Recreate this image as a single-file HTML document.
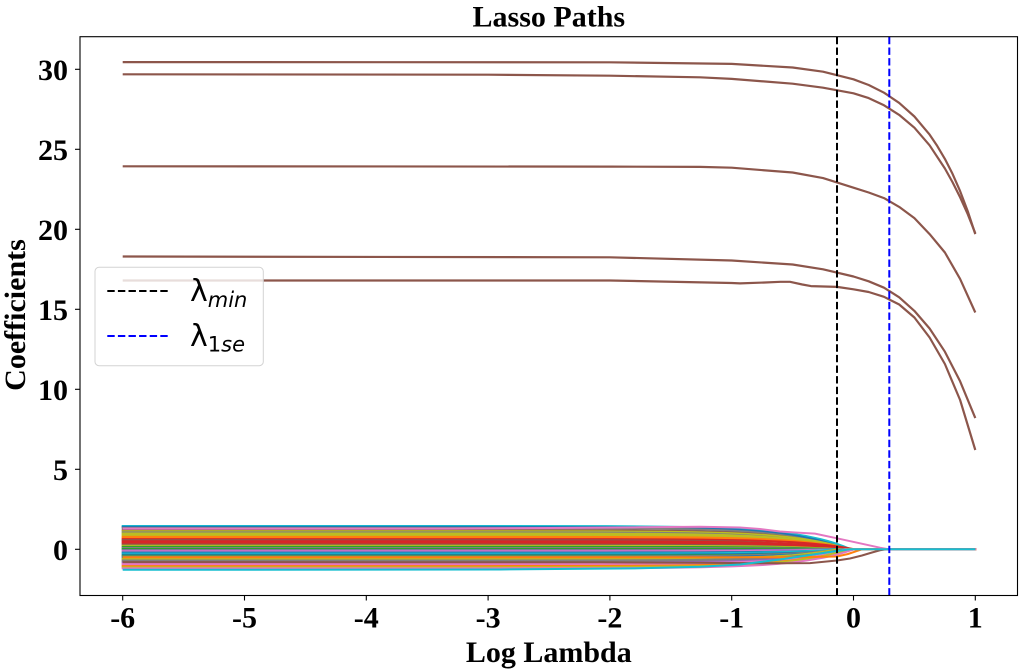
<!DOCTYPE html>
<html><head><meta charset="utf-8"><style>
html,body{margin:0;padding:0;background:#fff;}
svg{display:block;}
.t{font-family:"Liberation Serif","Times New Roman",serif;font-weight:bold;font-size:30px;fill:#000;}
.lg{font-family:"DejaVu Sans",sans-serif;fill:#000;}
</style></head><body>
<svg width="1023" height="670" viewBox="0 0 1023 670" xmlns="http://www.w3.org/2000/svg">
<defs>
<clipPath id="cp"><rect x="121.7" y="30" width="854.6" height="570"/></clipPath>
<path id="u" fill="none" vector-effect="non-scaling-stroke" d="M-900,1 L-365.4,0.999 L-243.6,0.99 L-182.7,0.968 L-152.25,0.944 L-121.8,0.9 L-106.6,0.867 L-91.35,0.822 L-76.1,0.763 L-60.9,0.684 L-45.7,0.578 L-30.45,0.438 L-22.8,0.351 L-15.2,0.25 L-7.6,0.134 L0,0 L200,0"/>
</defs>
<rect width="1023" height="670" fill="#fff"/>

<!-- small coefficient bundle -->
<g clip-path="url(#cp)" stroke-width="2" fill="none">
<use href="#u" transform="translate(851 549.3) scale(1 -23.36)" stroke="#17becf"/>
<use href="#u" transform="translate(846 549.3) scale(1 -22.4)" stroke="#1f77b4"/>
<use href="#u" transform="translate(840 549.3) scale(1 -21.28)" stroke="#7f7f7f"/>
<use href="#u" transform="translate(842 549.3) scale(1 -19.2)" stroke="#8c564b"/>
<use href="#u" transform="translate(848 549.3) scale(1 -18.08)" stroke="#bcbd22"/>
<use href="#u" transform="translate(838 549.3) scale(1 -16.96)" stroke="#7f7f7f"/>
<use href="#u" transform="translate(845 549.3) scale(1 -15.84)" stroke="#bcbd22"/>
<use href="#u" transform="translate(850 549.3) scale(1 -14.72)" stroke="#bcbd22"/>
<use href="#u" transform="translate(836 549.3) scale(1 -13.6)" stroke="#bcbd22"/>
<use href="#u" transform="translate(852 549.3) scale(1 -12.48)" stroke="#ff7f0e"/>
<use href="#u" transform="translate(844 549.3) scale(1 -11.36)" stroke="#ff7f0e"/>
<use href="#u" transform="translate(855 549.3) scale(1 -10.24)" stroke="#d62728"/>
<use href="#u" transform="translate(832 549.3) scale(1 -9.12)" stroke="#8c564b"/>
<use href="#u" transform="translate(850 549.3) scale(1 -8.0)" stroke="#d62728"/>
<use href="#u" transform="translate(853 549.3) scale(1 -6.88)" stroke="#d62728"/>
<use href="#u" transform="translate(846 549.3) scale(1 -5.76)" stroke="#d62728"/>
<use href="#u" transform="translate(828 549.3) scale(1 -4.64)" stroke="#8c564b"/>
<use href="#u" transform="translate(840 549.3) scale(1 -3.52)" stroke="#bcbd22"/>
<use href="#u" transform="translate(835 549.3) scale(1 -2.4)" stroke="#2ca02c"/>
<use href="#u" transform="translate(830 549.3) scale(1 -1.28)" stroke="#7f7f7f"/>
<use href="#u" transform="translate(826 549.3) scale(1 -0.32)" stroke="#2ca02c"/>
<use href="#u" transform="translate(834 549.3) scale(1 0.96)" stroke="#9467bd"/>
<use href="#u" transform="translate(842 549.3) scale(1 2.08)" stroke="#e377c2"/>
<use href="#u" transform="translate(848 549.3) scale(1 3.2)" stroke="#1f77b4"/>
<use href="#u" transform="translate(836 549.3) scale(1 4.32)" stroke="#17becf"/>
<use href="#u" transform="translate(850 549.3) scale(1 5.44)" stroke="#1f77b4"/>
<use href="#u" transform="translate(856 549.3) scale(1 6.4)" stroke="#2ca02c"/>
<use href="#u" transform="translate(840 549.3) scale(1 7.2)" stroke="#7f7f7f"/>
<use href="#u" transform="translate(846 549.3) scale(1 8.32)" stroke="#1f77b4"/>
<use href="#u" transform="translate(852 549.3) scale(1 9.28)" stroke="#bcbd22"/>
<use href="#u" transform="translate(838 549.3) scale(1 10.24)" stroke="#bcbd22"/>
<use href="#u" transform="translate(848 549.3) scale(1 11.2)" stroke="#7f7f7f"/>
<use href="#u" transform="translate(842 549.3) scale(1 12.32)" stroke="#7f7f7f"/>
<use href="#u" transform="translate(850 549.3) scale(1 13.44)" stroke="#9467bd"/>
<use href="#u" transform="translate(852 549.3) scale(1 14.56)" stroke="#e377c2"/>
<use href="#u" transform="translate(846 549.3) scale(1 15.68)" stroke="#e377c2"/>
<use href="#u" transform="translate(850 549.3) scale(1 16.8)" stroke="#ff7f0e"/>
<use href="#u" transform="translate(848 549.3) scale(1 17.92)" stroke="#bcbd22"/>
<use href="#u" transform="translate(854 549.3) scale(1 19.04)" stroke="#e377c2"/>
<!-- specials -->
<polyline stroke="#ff7f0e" points="122.7,557.3 790,557.3 837,556.5 848,554 856,551.3 862,549.3 975.3,549.3"/>
<polyline stroke="#8c564b" points="122.7,562.1 600,562.3 700,562.8 780,563.3 810,563.1 837,560.5 850,558.5 862,555.5 872,552.5 880,550.3 886,549.3 975.3,549.3"/>
<polyline stroke="#e377c2" points="122.7,528.6 450,528.6 550,528 640,527.3 700,526.7 740,527.5 760,529 780,531.5 795,532.5 815,533.6 837,538.3 860,543.3 880,547.7 889,549.3 975.3,549.3"/>
<polyline stroke="#17becf" points="122.7,569.8 500,569.5 640,568.3 700,566.7 740,564.5 760,562 780,559.5 800,556.5 820,553.5 835,551.3 850,549.3 975.3,549.3"/>
</g>

<!-- big brown paths -->
<g fill="none" stroke="#8c564b" stroke-width="2.2" stroke-linejoin="round">
<polyline points="122.7,62.1 609.9,62.3 731.7,63.9 792.6,67.5 823.05,71.7 853.5,79.3 868.7,85.0 884,92.7 899.2,102.9 914.4,116.5 929.6,134.6 937.2,145.9 944.9,158.9 952.5,173.8 960.1,191.1 967.7,211.1 975.3,234.1"/>
<polyline points="122.7,74.3 488.1,74.7 609.9,75.7 700,77.3 731.7,78.9 792.6,83.7 823.05,87.7 853.5,93.3 868.7,98.1 884,105.3 899.2,114.9 914.4,127.7 929.6,145.3 944.9,168.5 952.5,182.1 960.1,197.3 967.7,214.1 975.3,233.3"/>
<polyline points="122.7,166.3 609.9,166.6 700,166.9 731.7,167.7 792.6,172.5 823.05,178.1 853.5,187.7 868.7,192.5 884,198.1 899.2,206.9 914.4,218.1 929.6,234.1 944.9,252.5 960.1,278.9 975.3,312.5"/>
<polyline points="122.7,256.5 609.9,257.3 731.7,260.5 792.6,264.5 823.05,269.3 853.5,276.5 868.7,281.3 884,287.7 899.2,297.3 914.4,310.9 929.6,328.5 944.9,351.7 960.1,381.3 975.3,418.1"/>
<polyline points="122.7,280.5 609.9,280.5 731.7,283.0 740,283.4 765,282.5 780.4,281.8 790,281.8 802.3,284.5 810.9,286.1 837,286.9 853.5,289.3 868.7,292.0 884,296.8 899.2,304.5 914.4,317.5 929.6,337.5 944.9,364 960.1,400 975.3,450"/>
</g>

<!-- vertical dashed lines -->
<line x1="837" y1="595.5" x2="837" y2="36.7" stroke="#000" stroke-width="2" stroke-dasharray="7.4 3.2"/>
<line x1="889.3" y1="595.5" x2="889.3" y2="36.7" stroke="#0000ff" stroke-width="2" stroke-dasharray="7.4 3.2"/>

<!-- axes frame -->
<rect x="80" y="36.7" width="937.5" height="558.8" fill="none" stroke="#000" stroke-width="1.1"/>

<!-- y ticks -->
<g stroke="#000" stroke-width="1.1">
<line x1="75" y1="549.3" x2="80" y2="549.3"/>
<line x1="75" y1="469.3" x2="80" y2="469.3"/>
<line x1="75" y1="389.3" x2="80" y2="389.3"/>
<line x1="75" y1="309.3" x2="80" y2="309.3"/>
<line x1="75" y1="229.3" x2="80" y2="229.3"/>
<line x1="75" y1="149.3" x2="80" y2="149.3"/>
<line x1="75" y1="69.3" x2="80" y2="69.3"/>
<line x1="122.7" y1="595.5" x2="122.7" y2="600.5"/>
<line x1="244.5" y1="595.5" x2="244.5" y2="600.5"/>
<line x1="366.3" y1="595.5" x2="366.3" y2="600.5"/>
<line x1="488.1" y1="595.5" x2="488.1" y2="600.5"/>
<line x1="609.9" y1="595.5" x2="609.9" y2="600.5"/>
<line x1="731.7" y1="595.5" x2="731.7" y2="600.5"/>
<line x1="853.5" y1="595.5" x2="853.5" y2="600.5"/>
<line x1="975.3" y1="595.5" x2="975.3" y2="600.5"/>
</g>
<g class="t" text-anchor="end">
<text x="68" y="559.8">0</text>
<text x="68" y="479.8">5</text>
<text x="68" y="399.8">10</text>
<text x="68" y="319.8">15</text>
<text x="68" y="239.8">20</text>
<text x="68" y="159.8">25</text>
<text x="68" y="79.8">30</text>
</g>
<g class="t" text-anchor="middle">
<text x="122.7" y="627.5">-6</text>
<text x="244.5" y="627.5">-5</text>
<text x="366.3" y="627.5">-4</text>
<text x="488.1" y="627.5">-3</text>
<text x="609.9" y="627.5">-2</text>
<text x="731.7" y="627.5">-1</text>
<text x="853.5" y="627.5">0</text>
<text x="975.3" y="627.5">1</text>
</g>

<!-- title & labels -->
<text class="t" x="548.8" y="26.5" text-anchor="middle">Lasso Paths</text>
<text class="t" x="548.8" y="662" text-anchor="middle">Log Lambda</text>
<text class="t" transform="translate(25 315) rotate(-90)" x="0" y="0" text-anchor="middle">Coefficients</text>

<!-- legend -->
<rect x="95" y="267.3" width="168.3" height="98.4" rx="4" ry="4" fill="#fff" fill-opacity="0.8" stroke="#d3d3d3" stroke-width="1"/>
<line x1="107.3" y1="291" x2="168.3" y2="291" stroke="#000" stroke-width="2" stroke-dasharray="7.4 3.2"/>
<line x1="107.3" y1="336" x2="168.3" y2="336" stroke="#0000ff" stroke-width="2" stroke-dasharray="7.4 3.2"/>
<text class="lg" x="190" y="301"><tspan font-size="30">λ</tspan><tspan font-size="21" font-style="italic" dy="6">min</tspan></text>
<text class="lg" x="190" y="346"><tspan font-size="30">λ</tspan><tspan font-size="21" dy="5.5">1</tspan><tspan font-size="21" font-style="italic">se</tspan></text>
</svg>
</body></html>
